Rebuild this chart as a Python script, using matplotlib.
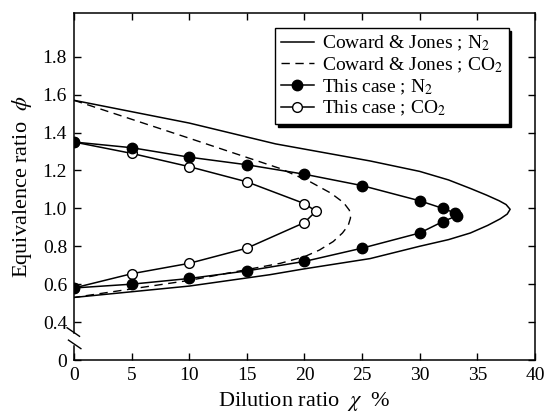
import matplotlib
matplotlib.use("Agg")
import matplotlib.pyplot as plt

plt.rcParams['font.family'] = ['Liberation Serif', 'DejaVu Serif']
plt.rcParams['mathtext.fontset'] = 'stix'

# Coward & Jones limits
cj_n2_x = [0, 10, 17.5, 25.7, 30, 32.5, 34.4, 35.8, 36.9, 37.5, 37.85, 37.6, 37.0, 35.9, 34.4, 32.5,
           30, 25.7, 19.9, 17.0, 10, 0]
cj_n2_y = [1.57, 1.45, 1.34, 1.25, 1.195, 1.15, 1.105, 1.07, 1.04, 1.02, 0.995, 0.97, 0.945, 0.91,
           0.87, 0.835, 0.80, 0.735, 0.68, 0.65, 0.59, 0.53]
cj_co2_x = [0, 10, 17.9, 20.5, 22.3, 23.4, 23.9, 24.0, 23.8, 23.3, 22.5, 21.3, 20.0, 17.9, 10, 0]
cj_co2_y = [1.57, 1.37, 1.21, 1.14, 1.08, 1.03, 0.99, 0.95, 0.91, 0.87, 0.825, 0.78, 0.745, 0.71,
            0.62, 0.53]

# This case
n2_x = [0, 5, 10, 15, 20, 25, 30, 32, 33.1, 33.2, 32, 30, 25, 20, 15, 10, 5, 0]
n2_y = [1.35, 1.32, 1.27, 1.23, 1.18, 1.12, 1.04, 1.00, 0.975, 0.96, 0.93, 0.87, 0.79, 0.72, 0.67, 0.63, 0.60, 0.58]
co2_x = [0, 5, 10, 15, 20, 21, 20, 15, 10, 5, 0]
co2_y = [1.35, 1.29, 1.22, 1.14, 1.025, 0.985, 0.925, 0.79, 0.71, 0.655, 0.58]

xticks = [0, 5, 10, 15, 20, 25, 30, 35, 40]
yticks = [0.2, 0.4, 0.6, 0.8, 1.0, 1.2, 1.4, 1.6, 1.8]
ytick_labels = ['0', '0.4', '0.6', '0.8', '1.0', '1.2', '1.4', '1.6', '1.8']

fig = plt.figure(figsize=(5.58, 4.12), dpi=100)
ax = fig.add_axes([0.1326, 0.1262, 0.826, 0.842])

ax.plot(cj_n2_x, cj_n2_y, '-', color='black', lw=1.1, label='Coward & Jones ; N$_2$')
ax.plot(cj_co2_x, cj_co2_y, '--', color='black', lw=1.0, dashes=(6, 4),
        label='Coward & Jones ; CO$_2$')
ax.plot(n2_x, n2_y, '-o', color='black', lw=1.1, ms=7.5, mfc='black', mec='black',
        label='This case ; N$_2$', zorder=4)
ax.plot(co2_x, co2_y, '-o', color='black', lw=1.1, ms=7, mfc='white', mec='black',
        label='This case ; CO$_2$', zorder=3)

ax.set_xlim(0, 40)
ax.set_ylim(0.2, 2.03)
ax.set_xticks(xticks)
ax.set_yticks(yticks)
ax.set_yticklabels(ytick_labels)
ax.tick_params(direction='in', length=5, width=1, top=True, right=True, labelsize=14, pad=5)
for s in ax.spines.values():
    s.set_linewidth(1.1)

# broken y axis near the bottom
ax.spines['left'].set_bounds(0.345, 2.03)
tr = ax.get_yaxis_transform()
ax.plot([0, 0], [0.2, 0.275], color='black', lw=1.1, transform=tr, clip_on=False)
ax.plot([-0.015, 0.012], [0.37, 0.325], color='black', lw=1.0, transform=tr, clip_on=False)
ax.plot([-0.012, 0.015], [0.305, 0.26], color='black', lw=1.0, transform=tr, clip_on=False)

ax.set_xlabel('Dilution ratio  $\\chi$  %', fontsize=16, labelpad=4)
ax.set_ylabel('Equivalence ratio  $\\phi$', fontsize=16, labelpad=6)

leg = ax.legend(loc='upper left', bbox_to_anchor=(275 / 558, 1 - 28 / 412),
                bbox_transform=fig.transFigure, borderaxespad=0, fontsize=14,
                frameon=True, fancybox=False, framealpha=1, edgecolor='black',
                handlelength=1.7, handletextpad=0.4, labelspacing=0.12,
                borderpad=0.3, shadow={'ox': 2, 'oy': -2, 'color': 'black', 'alpha': 1})
leg.get_frame().set_linewidth(1.0)

fig.savefig('out.png', dpi=100)
